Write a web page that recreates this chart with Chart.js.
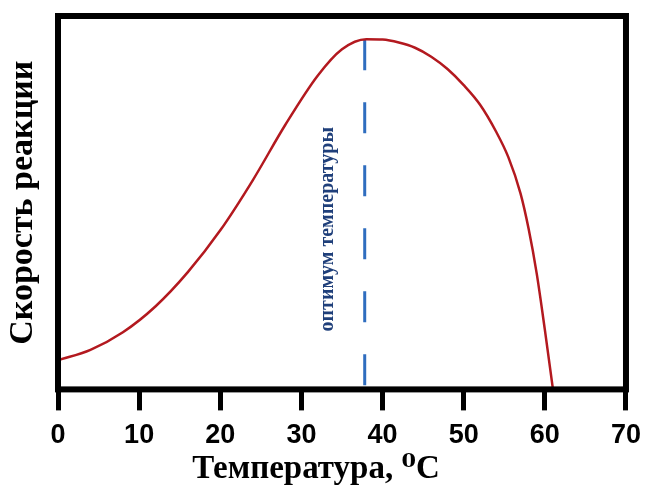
<!DOCTYPE html>
<html lang="ru">
<head>
<meta charset="utf-8">
<title>Скорость реакции</title>
<script src="https://cdn.jsdelivr.net/npm/chart.js@4.4.1/dist/chart.umd.min.js"></script>
<style>
  html, body { margin: 0; padding: 0; background: #fff; }
  #wrap { width: 650px; height: 493px; position: relative; }
</style>
</head>
<body>
<div id="wrap"><canvas id="chart"></canvas></div>
<script>
// curve (temperature, rate in % of axis height)
const temperatures = [0, 4, 8, 12, 16, 20, 24, 28, 32, 35, 38, 40, 42, 44, 46, 48, 50, 52, 54, 55.5, 57, 58, 59, 60, 61];
const reactionRates = [7.8, 10.6, 15.3, 22.2, 31.4, 42.6, 56.0, 70.8, 84.0, 91.1, 93.8, 93.7, 92.9, 91.5, 89.1, 85.8, 81.5, 76.3, 69.0, 62.2, 52.5, 43.0, 31.0, 16.0, 0];

// dashed optimum marker
const optimumX = [37.8, 37.8];
const optimumY = [93.8, 0];
const optimumLabel = 'оптимум температуры';
const optimumLabelPos = [33.3, 42.9];

const xMin = 0, xMax = 70, xStep = 10;
const yMin = 0, yMax = 100;

const xTitle = 'Температура, ⁰C';
const yTitle = 'Скорость реакции';

const curvePoints = temperatures.map((t, i) => ({ x: t, y: reactionRates[i] }));
const optimumPoints = optimumX.map((t, i) => ({ x: t, y: optimumY[i] }));

// thick black frame round the plot + rotated blue note
const framePlugin = {
    id: 'frame',
    afterDatasetsDraw(chart) {
        const { ctx, chartArea: a, scales } = chart;
        ctx.save();
        ctx.strokeStyle = '#000';
        ctx.lineWidth = 6;
        ctx.strokeRect(a.left, a.top, a.right - a.left, a.bottom - a.top);

        const px = scales.x.getPixelForValue(optimumLabelPos[0]);
        const py = scales.y.getPixelForValue(optimumLabelPos[1]);
        ctx.translate(px, py);
        ctx.rotate(-Math.PI / 2);
        ctx.fillStyle = '#1f3f7a';
        ctx.font = 'bold 20px "Liberation Serif", "DejaVu Serif", serif';
        ctx.textAlign = 'center';
        ctx.textBaseline = 'middle';
        ctx.fillText(optimumLabel, 0, 0);
        ctx.restore();
    }
};

new Chart(document.getElementById('chart'), {
    type: 'scatter',
    data: {
        datasets: [
            {
                data: curvePoints,
                showLine: true,
                borderColor: '#b3191f',
                borderWidth: 2.5,
                pointRadius: 0,
                cubicInterpolationMode: 'monotone'
            },
            {
                data: optimumPoints,
                showLine: true,
                borderColor: '#2f6dbf',
                borderWidth: 3,
                borderDash: [31, 32],
                pointRadius: 0
            }
        ]
    },
    options: {
        responsive: true,
        maintainAspectRatio: false,
        animation: false,
        layout: { padding: { left: 0, right: 18, top: 16, bottom: 0 } },
        scales: {
            x: {
                type: 'linear',
                min: xMin,
                max: xMax,
                afterFit: s => { s.height = 60; },
                ticks: {
                    stepSize: xStep,
                    color: '#000',
                    padding: 9,
                    font: { family: '"Liberation Sans", Arial, sans-serif', weight: 'bold', size: 27 }
                },
                grid: {
                    drawOnChartArea: false,
                    drawTicks: true,
                    tickLength: 21,
                    tickWidth: 5,
                    tickColor: '#000'
                },
                border: { display: false }
            },
            y: {
                min: yMin,
                max: yMax,
                afterFit: s => { s.width = 58; },
                ticks: { display: false },
                grid: { display: false },
                border: { display: false },
                title: {
                    display: true,
                    text: yTitle,
                    color: '#000',
                    padding: { top: 3, bottom: 0 },
                    font: { family: '"Liberation Serif", "DejaVu Serif", serif', weight: 'bold', size: 34 }
                }
            }
        },
        plugins: {
            legend: { display: false },
            tooltip: { enabled: false },
            title: {
                display: true,
                position: 'bottom',
                text: xTitle,
                color: '#000',
                padding: { top: 0, bottom: 4 },
                font: { family: '"Liberation Serif", "DejaVu Serif", serif', weight: 'bold', size: 33 }
            }
        }
    },
    plugins: [framePlugin]
});
</script>
</body>
</html>
